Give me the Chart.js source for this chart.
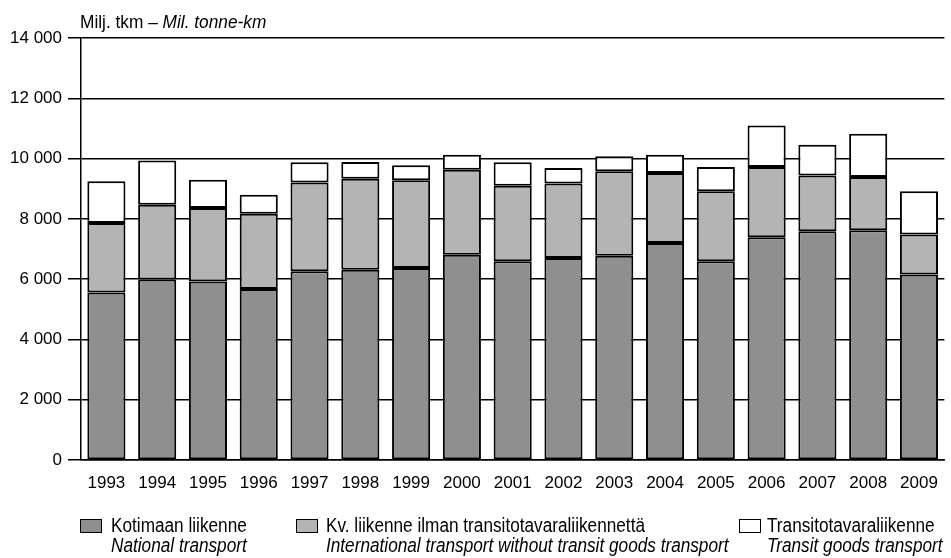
<!DOCTYPE html>
<html>
<head>
<meta charset="utf-8">
<script src="https://cdn.jsdelivr.net/npm/chart.js@4"></script>
<style>
  body { margin: 0; background: #fff; }
  #wrap { position: relative; width: 951px; height: 558px; }
  .leg { position: absolute; font-family: 'Liberation Sans', Arial, sans-serif; font-size: 20px; color: #000; line-height: 20px; white-space: nowrap; transform: scaleX(0.86); transform-origin: left top; }
  .leg i { display: block; }
  .sw { position: absolute; width: 20px; height: 12px; border: 1.5px solid #000; }
</style>
</head>
<body>
<div id="wrap">
  <canvas id="chart" width="951" height="558"></canvas>
  <div class="sw" style="left:80px; top:519px; background:#8f8f8f;"></div>
  <div class="leg" style="left:111px; top:515px;">Kotimaan liikenne<i>National transport</i></div>
  <div class="sw" style="left:296px; top:519px; background:#b4b4b4;"></div>
  <div class="leg" style="left:326px; top:515px;">Kv. liikenne ilman transitotavaraliikennettä<i>International transport without transit goods transport</i></div>
  <div class="sw" style="left:739px; top:519px; background:#fff;"></div>
  <div class="leg" style="left:767px; top:515px;">Transitotavaraliikenne<i>Transit goods transport</i></div>
</div>
<script>
var years = ["1993", "1994", "1995", "1996", "1997", "1998", "1999", "2000", "2001",
             "2002", "2003", "2004", "2005", "2006", "2007", "2008", "2009"];
var national = [5560, 5990, 5920, 5670, 6260, 6310, 6370, 6810, 6590, 6700, 6780, 7200, 6590, 7390, 7590, 7620, 6150];
var international = [2300, 2480, 2440, 2500, 2950, 3020, 2910, 2820, 2510, 2470, 2800, 2320, 2330, 2330, 1850, 1770, 1330];
var transit = [1390, 1470, 940, 630, 670, 560, 500, 500, 780, 520, 500, 610, 800, 1380, 1020, 1430, 1440];

var fontFam = "'Liberation Sans', Arial, sans-serif";

// unit title, squeezed a bit like the narrow font in the original
var titlePlugin = {
    id: 'unitTitle',
    afterDraw: function(chart) {
        var c = chart.ctx;
        c.save();
        c.translate(80, 28);
        c.scale(0.91, 1);
        c.fillStyle = '#000';
        c.textBaseline = 'alphabetic';
        c.font = '19px ' + fontFam;
        var first = 'Milj. tkm – ';
        c.fillText(first, 0, 0);
        var w = c.measureText(first).width;
        c.font = 'italic 19px ' + fontFam;
        c.fillText('Mil. tonne-km', w, 0);
        c.restore();
    }
};

function barSet(label, data, color) {
    return {
        label: label,
        data: data,
        backgroundColor: color,
        borderColor: '#000',
        borderWidth: 2,
        borderSkipped: false,
        barPercentage: 0.75,
        categoryPercentage: 1.0
    };
}

var chart = new Chart(document.getElementById('chart'), {
    type: 'bar',
    data: {
        labels: years,
        datasets: [
            barSet('Kotimaan liikenne', national, '#8f8f8f'),
            barSet('Kv. liikenne ilman transitotavaraliikennettä', international, '#b4b4b4'),
            barSet('Transitotavaraliikenne', transit, '#ffffff')
        ]
    },
    options: {
        responsive: false,
        animation: false,
        layout: { padding: { top: 38, right: 4, bottom: 68, left: 0 } },
        plugins: {
            legend: { display: false },
            tooltip: { enabled: false }
        },
        scales: {
            x: {
                stacked: true,
                grid: { display: false, drawTicks: false },
                border: { display: true, color: '#000', width: 1.5 },
                ticks: { color: '#000', font: { family: fontFam, size: 17 }, padding: 13, maxRotation: 0 },
                afterFit: function(s) { s.height = 30; }
            },
            y: {
                stacked: true,
                min: 0,
                max: 14000,
                grid: { color: '#000', lineWidth: 1.5, drawTicks: true, tickLength: 13, tickColor: '#000' },
                border: { display: true, color: '#000', width: 1.5 },
                ticks: {
                    stepSize: 2000,
                    color: '#000',
                    padding: 6,
                    font: { family: fontFam, size: 17 },
                    callback: function(v) { return v >= 1000 ? Math.floor(v / 1000) + ' ' + String(v % 1000).padStart(3, '0') : String(v); }
                },
                afterFit: function(s) { s.width = 81; }
            }
        }
    },
    plugins: [titlePlugin]
});
</script>
</body>
</html>
